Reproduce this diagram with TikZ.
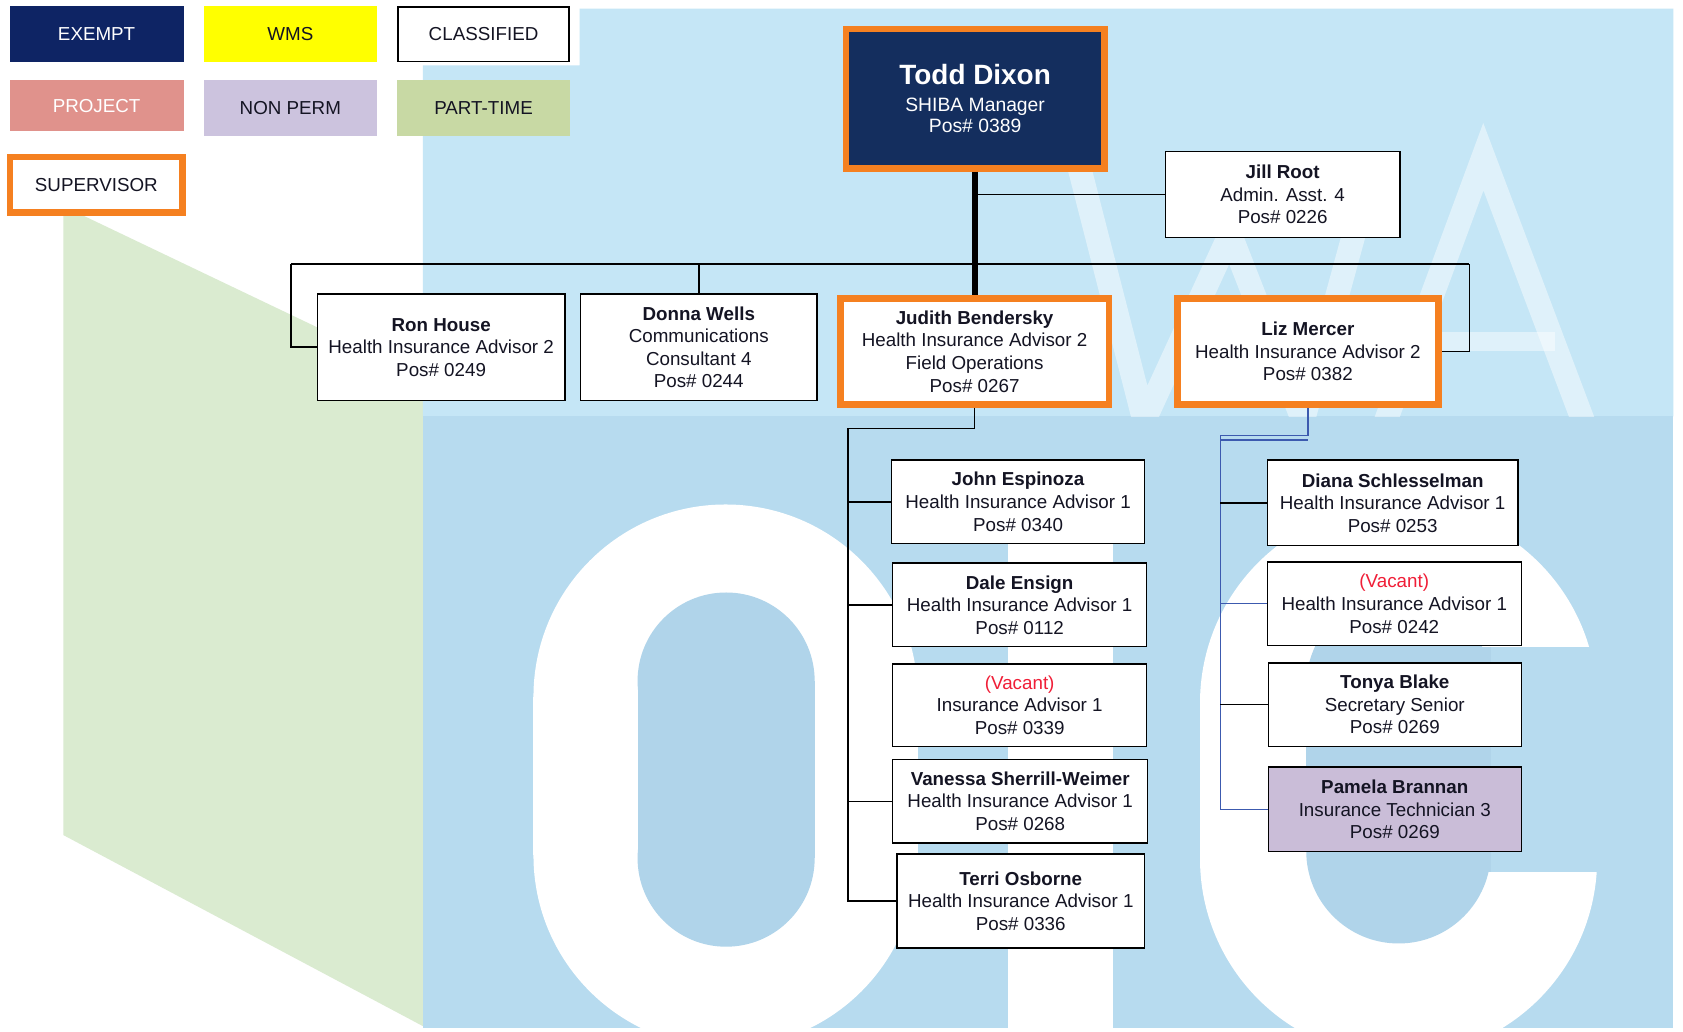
\documentclass[tikz,border=0pt]{standalone}
\usepackage{fontspec}
\setmainfont{Liberation Sans}
\definecolor{exemptc}{RGB}{14,36,100}
\definecolor{toddc}{RGB}{20,46,94}
\definecolor{wmsc}{RGB}{255,255,0}
\definecolor{projc}{RGB}{224,146,140}
\definecolor{npermc}{RGB}{204,195,222}
\definecolor{ptimec}{RGB}{200,217,164}
\definecolor{orng}{RGB}{245,128,32}
\definecolor{pamc}{RGB}{202,189,216}
\definecolor{vred}{RGB}{240,30,55}
\definecolor{bconnc}{RGB}{60,90,175}
\definecolor{bluetop}{RGB}{197,230,246}
\definecolor{bluelow}{RGB}{183,219,239}
\definecolor{bluehole}{RGB}{176,212,234}
\definecolor{greenbg}{RGB}{218,235,208}
\definecolor{txt}{RGB}{20,20,35}
\tikzset{
  pbox/.style={draw=black, line width=1.4pt, fill=white, align=center, inner sep=0pt, text=txt, font=\fontsize{17.5}{21}\selectfont},
  supbox/.style={pbox, draw=orng, line width=6pt},
  legbox/.style={inner sep=0pt, align=center, text=txt, font=\fontsize{17.5}{21}\selectfont},
  conn/.style={draw=black, line width=1.4pt},
  bconn/.style={draw=bconnc, line width=1.2pt},
  wmark/.style={draw=white, draw opacity=0.45, line width=22pt, line join=miter},
}
\newcommand{\vac}{{\color{vred}(Vacant)}}
\begin{document}
\begin{tikzpicture}[x=1pt,y=-1pt]
\useasboundingbox (0,0) rectangle (1568,961);
% ---------- background watermark ----------
\fill[white] (0,0) rectangle (1568,961);
\fill[greenbg] (59,192) -- (394,352) -- (394,956) -- (59,778) -- cycle;
\fill[bluetop] (394,61) -- (540,61) -- (540,8) -- (1559,8) -- (1559,388) -- (394,388) -- cycle;
\fill[bluelow] (394,388) rectangle (1559,958);
\begin{scope}
  \clip (394,8) rectangle (1559,388);
  \draw[wmark] (1004,150) -- (1066,392) -- (1146,218) -- (1214,392) -- (1280,150);
  \draw[wmark] (1290,395) -- (1382,146) -- (1476,395);
  \draw[wmark, line width=18pt] (1317,318) -- (1449,318);
\end{scope}
\begin{scope}
  \clip (394,388) rectangle (1559,958);
  % O
  \fill[white] (676,649) circle[radius=179pt];
  \fill[white] (497,649) rectangle (855,797);
  \fill[white] (676,797) circle[radius=179pt];
  \fill[bluehole] (676.5,634.5) circle[radius=82.5pt];
  \fill[bluehole] (594,634.5) rectangle (759,799.5);
  \fill[bluehole] (676.5,799.5) circle[radius=82.5pt];
  % I
  \fill[white] (939,470) rectangle (1037,958);
  % C
  \fill[white] (1303,655) circle[radius=185pt];
  \fill[white] (1118,655) rectangle (1488,800);
  \fill[white] (1303,800) circle[radius=185pt];
  \fill[bluehole] (1303,639) circle[radius=86pt];
  \fill[bluehole] (1217,639) rectangle (1389,793);
  \fill[bluehole] (1303,793) circle[radius=86pt];
  \fill[bluelow] (1303,603) rectangle (1520,812);
  \fill[bluehole] (1303,603) rectangle (1389,812);
\end{scope}
% ---------- legend ----------
\node[legbox, fill=exemptc, text=white, minimum width=162pt, minimum height=52pt] (lgExempt) at (90,32) {EXEMPT};
\node[legbox, fill=wmsc, minimum width=161pt, minimum height=52pt] (lgWms) at (270.5,32) {WMS};
\node[legbox, fill=white, draw=black, line width=1.5pt, minimum width=159.5pt, minimum height=50.5pt] (lgClass) at (450.5,32) {CLASSIFIED};
\node[legbox, fill=projc, text=white, minimum width=162pt, minimum height=48pt] (lgProj) at (90,98.5) {PROJECT};
\node[legbox, fill=npermc, minimum width=161pt, minimum height=52.5pt] (lgNperm) at (270.5,100.75) {NON PERM};
\node[legbox, fill=ptimec, minimum width=161pt, minimum height=52.5pt] (lgPtime) at (450.5,100.75) {PART-TIME};
\node[legbox, fill=white, draw=orng, line width=6pt, minimum width=160.5pt, minimum height=51.5pt] (lgSup) at (89.75,172.25) {SUPERVISOR};
% ---------- people ----------
\node[supbox, fill=toddc, text=white, font=\fontsize{18}{19.5}\selectfont, minimum width=241pt, minimum height=130pt] (todd) at (908.5,92)
  {{\fontsize{26}{28}\selectfont\bfseries Todd Dixon}\\[6pt] SHIBA Manager\\ Pos\# 0389};
\node[pbox, minimum width=218.6pt, minimum height=80.1pt] (jill) at (1195,181.25)
  {\textbf{Jill Root}\\ Admin. Asst. 4\\ Pos\# 0226};
\node[pbox, minimum width=230.6pt, minimum height=99.6pt] (ron) at (411,323.5)
  {\textbf{Ron House}\\ Health Insurance Advisor 2\\ Pos\# 0249};
\node[pbox, minimum width=220.6pt, minimum height=99.6pt] (donna) at (651,323.5)
  {\textbf{Donna Wells}\\ Communications\\ Consultant 4\\ Pos\# 0244};
\node[supbox, minimum width=250pt, minimum height=99pt] (judith) at (908,327.5)
  {\textbf{Judith Bendersky}\\ Health Insurance Advisor 2\\ Field Operations\\ Pos\# 0267};
\node[supbox, minimum width=243pt, minimum height=99pt] (liz) at (1218.5,327.5)
  {\textbf{Liz Mercer}\\ Health Insurance Advisor 2\\ Pos\# 0382};
\node[pbox, minimum width=235.6pt, minimum height=77.6pt] (john) at (948.5,467.5)
  {\textbf{John Espinoza}\\ Health Insurance Advisor 1\\ Pos\# 0340};
\node[pbox, minimum width=236.6pt, minimum height=77.6pt] (dale) at (950,563.5)
  {\textbf{Dale Ensign}\\ Health Insurance Advisor 1\\ Pos\# 0112};
\node[pbox, minimum width=236.6pt, minimum height=76.6pt] (vacA) at (950,657)
  {\vac\\ Insurance Advisor 1\\ Pos\# 0339};
\node[pbox, minimum width=237.6pt, minimum height=77.6pt] (vanessa) at (950.5,746.5)
  {\textbf{Vanessa Sherrill-Weimer}\\ Health Insurance Advisor 1\\ Pos\# 0268};
\node[pbox, minimum width=230.6pt, minimum height=87.6pt] (terri) at (951,839.5)
  {\textbf{Terri Osborne}\\ Health Insurance Advisor 1\\ Pos\# 0336};
\node[pbox, minimum width=233.6pt, minimum height=79.6pt] (diana) at (1297.5,468.5)
  {\textbf{Diana Schlesselman}\\ Health Insurance Advisor 1\\ Pos\# 0253};
\node[pbox, minimum width=236.6pt, minimum height=77.6pt] (vacB) at (1299,562.5)
  {\vac\\ Health Insurance Advisor 1\\ Pos\# 0242};
\node[pbox, minimum width=235.6pt, minimum height=77.6pt] (tonya) at (1299.5,656.5)
  {\textbf{Tonya Blake}\\ Secretary Senior\\ Pos\# 0269};
\node[pbox, fill=pamc, minimum width=235.6pt, minimum height=78.6pt] (pamela) at (1299.5,754)
  {\textbf{Pamela Brannan}\\ Insurance Technician 3\\ Pos\# 0269};
% ---------- connectors ----------
\coordinate (busL) at (271,246);
\coordinate (busR) at (1369,246);
\coordinate (jc) at (790,399);
\coordinate (lc) at (1137,406);
\coordinate (lc2) at (1137,410);
\draw[conn] (busL) -- (busR);
\draw[conn] (busL) |- (ron.west);
\draw[conn] (busR) |- (liz.east);
\draw[conn] (donna.north) -- (donna.north |- busL);
\draw[conn] (todd.south |- jill.west) -- (jill.west);
\draw[draw=black, line width=5pt] (todd.south) -- (todd.south |- judith.north);
\draw[conn] (judith.south) |- (jc);
\draw[conn] (jc) |- (terri.west);
\draw[conn] (jc |- john.west) -- (john.west);
\draw[conn] (jc |- dale.west) -- (dale.west);
\draw[conn] (jc |- vanessa.west) -- (vanessa.west);
\draw[bconn] (liz.south) |- (lc);
\draw[bconn] (lc2) -- (lc2 -| liz.south);
\draw[bconn] (lc) |- (pamela.west);
\draw[conn] (lc |- diana.west) -- (diana.west);
\draw[bconn] (lc |- vacB.west) -- (vacB.west);
\draw[conn] (lc |- tonya.west) -- (tonya.west);
\end{tikzpicture}
\end{document}
